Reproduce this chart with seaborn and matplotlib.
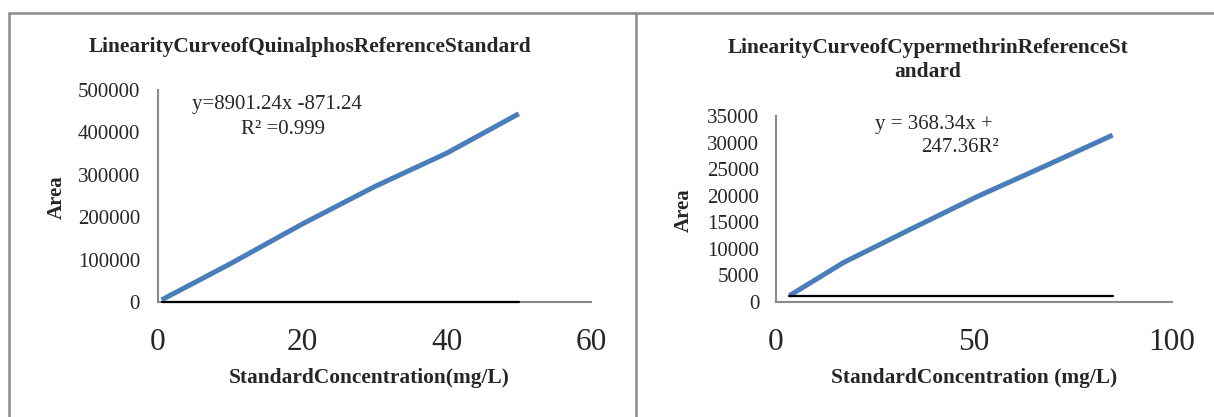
import matplotlib
matplotlib.use('Agg')
import matplotlib.pyplot as plt
import seaborn as sns
from matplotlib.lines import Line2D

# Quinalphos reference standard
quin_conc = [0.5, 10, 20, 30, 40, 50]
quin_area = [5000, 90000, 184000, 272000, 351000, 444000]
quin_base_conc = [0.5, 50]
quin_base_area = [0, 0]
quin_xticks = [0, 20, 40, 60]
quin_yticks = [0, 100000, 200000, 300000, 400000, 500000]

# Cypermethrin reference standard
cyp_conc = [3.4, 17, 34, 51, 68, 85]
cyp_area = [1200, 7400, 13700, 19900, 25600, 31400]
cyp_base_conc = [3.4, 85]
cyp_base_area = [1200, 1200]
cyp_xticks = [0, 50, 100]
cyp_yticks = [0, 5000, 10000, 15000, 20000, 25000, 30000, 35000]

W, H = 1214, 417
BLUE = '#4a7ebb'
GRID = '#8a8a8a'


def fx(x):
    return x / W


def fy(y):
    return 1 - y / H


def style_axes(ax, xticks, yticks, ypad):
    ax.set_xlim(xticks[0], xticks[-1])
    ax.set_ylim(yticks[0], yticks[-1])
    ax.set_xticks(xticks)
    ax.set_yticks(yticks)
    ax.set_xticklabels([str(t) for t in xticks], fontsize=22.5)
    ax.set_yticklabels([str(t) for t in yticks], fontsize=15)
    ax.tick_params(axis='x', length=0, pad=19)
    ax.tick_params(axis='y', length=0, pad=ypad)
    ax.set_xlabel('')
    ax.set_ylabel('')
    sns.despine(ax=ax)
    for s in ('left', 'bottom'):
        ax.spines[s].set_color(GRID)
        ax.spines[s].set_linewidth(1.5)
    ax.grid(False)


sns.set_style('white')
plt.rcParams['font.family'] = ['Liberation Serif', 'DejaVu Serif']

fig = plt.figure(figsize=(W / 100, H / 100), dpi=100)

# table-like frame around the two charts
for (x0, y0, x1, y1) in [(9, 13, W, 13), (9, 13, 9, H), (636, 13, 636, H)]:
    fig.add_artist(Line2D([fx(x0), fx(x1)], [fy(y0), fy(y1)], color=GRID, lw=1.8))

# left chart
ax1 = fig.add_axes([fx(158), fy(302), 433 / W, 212 / H])
sns.lineplot(x=quin_conc, y=quin_area, ax=ax1, color=BLUE, linewidth=3.6,
             solid_capstyle='butt', solid_joinstyle='round', zorder=3)
sns.lineplot(x=quin_base_conc, y=quin_base_area, ax=ax1, color='black',
             linewidth=1.6, zorder=4, clip_on=False)
style_axes(ax1, quin_xticks, quin_yticks, 13)

fig.text(fx(310), fy(47), 'LinearityCurveofQuinalphosReferenceStandard',
         ha='center', va='center', fontsize=15.4, fontweight='bold')
fig.text(fx(369), fy(378), 'StandardConcentration(mg/L)',
         ha='center', va='center', fontsize=15.4, fontweight='bold')
fig.text(fx(57), fy(197), 'Area', rotation=90,
         ha='center', va='center', fontsize=15, fontweight='bold')
fig.text(fx(277), fy(105), 'y=8901.24x -871.24', ha='center', va='center', fontsize=15)
fig.text(fx(283), fy(130), 'R² =0.999', ha='center', va='center', fontsize=15)

# right chart
ax2 = fig.add_axes([fx(776), fy(302), 396 / W, 186 / H])
sns.lineplot(x=cyp_conc, y=cyp_area, ax=ax2, color=BLUE, linewidth=3.6,
             solid_capstyle='butt', solid_joinstyle='round', zorder=3)
sns.lineplot(x=cyp_base_conc, y=cyp_base_area, ax=ax2, color='black',
             linewidth=1.6, zorder=4)
style_axes(ax2, cyp_xticks, cyp_yticks, 12)

fig.text(fx(928), fy(60), 'LinearityCurveofCypermethrinReferenceSt\nandard',
         ha='center', va='center', fontsize=15.4, fontweight='bold', linespacing=1.22)
fig.text(fx(974), fy(378), 'StandardConcentration (mg/L)',
         ha='center', va='center', fontsize=15.4, fontweight='bold')
fig.text(fx(684), fy(210), 'Area', rotation=90,
         ha='center', va='center', fontsize=15, fontweight='bold')
fig.text(fx(934), fy(125), 'y = 368.34x +', ha='center', va='center', fontsize=15)
fig.text(fx(960), fy(148), '247.36R²', ha='center', va='center', fontsize=15)

fig.savefig('out.png', dpi=100)
